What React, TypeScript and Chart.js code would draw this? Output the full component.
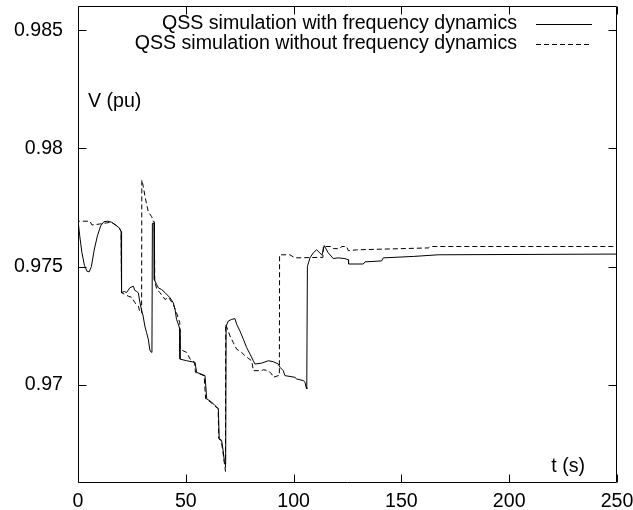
import React, { useEffect, useRef } from "react";
import { Chart, registerables } from "chart.js";

Chart.register(...registerables);

// ---- data ----
const tSolid = [
  0, 0.8, 1.8, 3, 4.2, 5.2, 6.2, 7.5, 9, 10.5, 12, 13.8, 15.5, 17.6, 19.2, 20.0, 20.2,
  21.5, 22.5, 24.1, 25.7, 26.3, 27.2, 28.0, 28.6, 29.4, 30.2, 31.0, 31.8, 32.6, 33.4, 34.3,
  34.5, 35.3, 35.4, 36.5, 37.3, 38.8, 40.4, 42.7, 44.2, 45.0, 45.7, 46.8, 47.2, 47.3,
  50.4, 54.3, 55.0, 58.9, 59.7, 62.0, 63.5, 65.1, 65.5, 66.6, 67.4, 67.9, 68.5, 68.7,
  69.7, 71.3, 72.8, 73.6, 75.1, 76.7, 78.2, 79.8, 81.3, 82.1, 85.2, 88.3, 90.5, 92.9,
  93.7, 95.2, 96.0, 100.6, 101.4, 104.5, 105.3, 105.8, 106.1, 106.4, 107.6, 109.1, 110.7,
  112.2, 113.2, 114.2, 116.1, 118.4, 120.7, 123.8, 125.4, 125.5, 132.3, 133.1, 140.8,
  141.6, 155.5, 167.1, 250,
];
const vSolid = [
  0.97697, 0.9763, 0.9756, 0.97505, 0.9748, 0.97478, 0.975, 0.9757, 0.9763, 0.97672, 0.9769,
  0.97692, 0.97688, 0.97675, 0.97663, 0.97648, 0.9739,
  0.97395, 0.9739, 0.97411, 0.97417, 0.974, 0.97395, 0.97389, 0.97354, 0.97319, 0.97291,
  0.97249, 0.97221, 0.97193, 0.97144, 0.97137,
  0.97683, 0.97683, 0.97445, 0.97424, 0.9741, 0.97403, 0.9739, 0.97368, 0.97347, 0.97319,
  0.97277, 0.97249, 0.97235, 0.97109,
  0.97102, 0.97095, 0.97053, 0.97039, 0.96941, 0.96927, 0.96913, 0.96899, 0.96773, 0.96766,
  0.96717, 0.96675, 0.96668, 0.97249,
  0.9727, 0.97277, 0.9728, 0.97256, 0.97228, 0.97193, 0.97158, 0.9713, 0.97102, 0.97088,
  0.97092, 0.97102, 0.97098, 0.97088,
  0.97074, 0.9706, 0.97039, 0.97032, 0.97025, 0.97018, 0.97011, 0.9699, 0.96983, 0.97501,
  0.97537, 0.97558, 0.97571,
  0.97558, 0.97548, 0.97589, 0.97558, 0.97534, 0.97537, 0.97534, 0.97529, 0.97511, 0.97511,
  0.9752, 0.97524,
  0.97537, 0.97543, 0.9755, 0.97553,
];

const tDashed = [
  0, 0.15, 5.5, 6.5, 10, 13.3, 15.5, 17.6, 19.2, 20.0, 20.2, 23.3, 25, 26.4, 28, 28.8, 29.5,
  29.6, 30.3, 31.1, 32.6, 34.2, 34.9, 35.4, 35.6, 36.5, 38, 40.4, 42, 44.2, 45.7, 47.2, 47.3,
  48.8, 50.4, 52, 54, 54.5, 58.5, 59.2, 61.5, 63, 65, 65.3, 66.5, 67.2, 67.8, 68.4, 68.5,
  70.5, 72, 73.6, 75.9, 77.5, 80.5, 81.0, 81.3, 85.2, 86, 88.3, 89.8, 90.6, 92.9, 93.4, 93.5,
  98.3, 100.6, 112.2, 113.6, 113.8, 117.6, 118.4, 121.5, 122.3, 124.6, 125.4, 129.2, 162.5,
  163.3, 250,
];
const vDashed = [
  0.9862, 0.97692, 0.97692, 0.97676, 0.9768, 0.97685, 0.97688, 0.97675, 0.97663, 0.97648,
  0.9739, 0.97375, 0.9737, 0.97347, 0.97333, 0.97305, 0.97305,
  0.97866, 0.97838, 0.97795, 0.97732, 0.97711, 0.9769, 0.9769, 0.9744, 0.97405, 0.9739,
  0.97361, 0.9737, 0.9734, 0.97305, 0.97263, 0.97151,
  0.97144, 0.97137, 0.97109, 0.97095, 0.97053, 0.97039, 0.96941, 0.96927, 0.96913, 0.969,
  0.96773, 0.9676, 0.96717, 0.96675, 0.96634, 0.97256,
  0.97207, 0.97179, 0.97151, 0.97137, 0.97123, 0.97102, 0.9708, 0.9706, 0.9706, 0.97064,
  0.9706, 0.97046, 0.97032, 0.97039, 0.97039, 0.9755,
  0.9755, 0.97537, 0.97539, 0.97539, 0.97585, 0.97585, 0.97576, 0.97576, 0.97585, 0.97585,
  0.97567, 0.97571, 0.97579,
  0.97585, 0.97585,
];

const seriesNames = [
  "QSS simulation with frequency dynamics",
  "QSS simulation without frequency dynamics",
];
const xTicks = [0, 50, 100, 150, 200, 250];
const xTickLabels = ["0", "50", "100", "150", "200", "250"];
const yTicks = [0.97, 0.975, 0.98, 0.985];
const yTickLabels = ["0.97", "0.975", "0.98", "0.985"];
const xTitle = "t (s)";
const yTitle = "V (pu)";

const FONT = '"Liberation Sans", Arial, Helvetica, sans-serif';
const FS = 19.6;

const framePlugin = {
  id: "frame",
  afterDraw(chart: any) {
    const { ctx, chartArea, scales } = chart;
    const { left, right, top, bottom } = chartArea;
    const xs = scales.x;
    const ys = scales.y;
    const L = Math.round(left) + 0.5;
    const R = Math.round(right) - 0.5;
    const T = Math.round(top) + 0.5;
    const B = Math.round(bottom) - 0.5;
    ctx.save();
    ctx.strokeStyle = "#000";
    ctx.lineWidth = 1;
    ctx.beginPath();
    ctx.rect(L, T, R - L, B - T);
    const tl = 8;
    xTicks.forEach((v) => {
      const px = Math.round(xs.getPixelForValue(v)) + 0.5;
      ctx.moveTo(px, B);
      ctx.lineTo(px, B - tl);
      ctx.moveTo(px, T);
      ctx.lineTo(px, T + tl);
    });
    yTicks.forEach((v) => {
      const py = Math.round(ys.getPixelForValue(v)) + 0.5;
      ctx.moveTo(L, py);
      ctx.lineTo(L + tl, py);
      ctx.moveTo(R, py);
      ctx.lineTo(R - tl, py);
    });
    ctx.stroke();

    // axis titles
    ctx.fillStyle = "#000";
    ctx.font = `${FS}px ${FONT}`;
    ctx.textBaseline = "middle";
    ctx.textAlign = "left";
    ctx.fillText(yTitle, left + 10, top + 96);
    ctx.textAlign = "right";
    ctx.fillText(xTitle, right - 32, bottom - 16);

    // legend
    const rows = [top + 18, top + 38];
    chart.data.datasets.forEach((ds: any, i: number) => {
      const y = rows[i];
      ctx.textAlign = "right";
      ctx.fillText(ds.label, 517, y);
      ctx.beginPath();
      ctx.setLineDash(ds.borderDash || []);
      ctx.lineWidth = 1;
      ctx.moveTo(536, Math.round(y) + 0.5);
      ctx.lineTo(592, Math.round(y) + 0.5);
      ctx.stroke();
      ctx.setLineDash([]);
    });
    ctx.restore();
  },
};

export default function App() {
  const ref = useRef<HTMLCanvasElement>(null);
  useEffect(() => {
    if (!ref.current) return;
    const chart = new Chart(ref.current, {
      type: "scatter",
      data: {
        datasets: [
          {
            label: seriesNames[0],
            data: tSolid.map((t, i) => ({ x: t, y: vSolid[i] })),
            showLine: true,
            borderColor: "#000",
            borderWidth: 1,
            pointRadius: 0,
            tension: 0,
          },
          {
            label: seriesNames[1],
            data: tDashed.map((t, i) => ({ x: t, y: vDashed[i] })),
            showLine: true,
            borderColor: "#000",
            borderWidth: 1,
            borderDash: [5, 3],
            pointRadius: 0,
            tension: 0,
          },
        ],
      },
      options: {
        animation: false,
        responsive: false,
        devicePixelRatio: 1,
        layout: { padding: { top: 6, right: 16, left: 0, bottom: 0 } },
        plugins: { legend: { display: false }, tooltip: { enabled: false } },
        scales: {
          x: {
            type: "linear",
            min: 0,
            max: 250,
            grid: { display: false, drawTicks: false },
            border: { display: false },
            afterBuildTicks: (s: any) => {
              s.ticks = xTicks.map((v) => ({ value: v }));
            },
            afterFit: (s: any) => {
              s.height = 27;
              s.paddingLeft = 0;
              s.paddingRight = 0;
            },
            ticks: {
              autoSkip: false,
              maxRotation: 0,
              padding: 7,
              color: "#000",
              font: { family: FONT, size: FS },
              callback: (_v: any, i: number) => xTickLabels[i],
            },
          },
          y: {
            type: "linear",
            min: 0.96585,
            max: 0.98602,
            grid: { display: false, drawTicks: false },
            border: { display: false },
            afterBuildTicks: (s: any) => {
              s.ticks = yTicks.map((v) => ({ value: v }));
            },
            afterFit: (s: any) => {
              s.width = 78;
              s.paddingTop = 0;
              s.paddingBottom = 0;
            },
            ticks: {
              autoSkip: false,
              padding: 15,
              color: "#000",
              font: { family: FONT, size: FS },
              callback: (_v: any, i: number) => yTickLabels[i],
            },
          },
        },
      },
      plugins: [framePlugin],
    });
    return () => chart.destroy();
  }, []);
  return (
    <div style={{ position: "fixed", left: 0, top: 0, width: 633, height: 510, background: "#fff" }}>
      <canvas ref={ref} width={633} height={510} style={{ display: "block" }} />
    </div>
  );
}
